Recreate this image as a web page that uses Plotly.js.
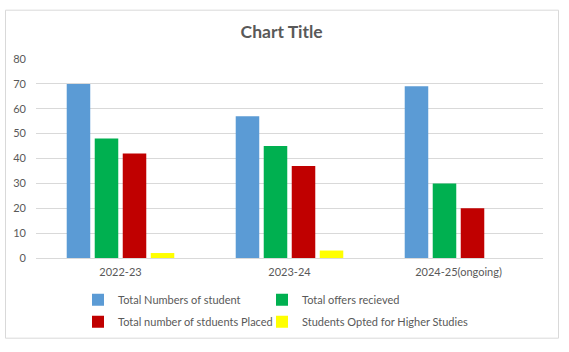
<!DOCTYPE html>
<html>
<head>
<meta charset="utf-8">
<script src="https://cdn.plot.ly/plotly-3.0.1.min.js"></script>
<style>html,body{margin:0;padding:0;background:#fff;}#chart{width:569px;height:352px;}</style>
</head>
<body>
<div id="chart"></div>
<script>
const categories = ["2022-23", "2023-24", "2024-25(ongoing)"];
const seriesNames = ["Total Numbers of student", "Total offers recieved", "Total number of stduents Placed", "Students Opted for Higher Studies"];
const totalStudents = [70, 57, 69];
const offersReceived = [48, 45, 30];
const studentsPlaced = [42, 37, 20];
const higherStudies = [2, 3, 0];
const yTicks = [0, 10, 20, 30, 40, 50, 60, 70, 80];

const colors = ["#5B9BD5", "#00B050", "#C00000", "#FFFF00"];
const values = [totalStudents, offersReceived, studentsPlaced, higherStudies];
const legendIds = ["legend", "legend2", "legend3", "legend4"];
const FONT = "Lato, 'Open Sans', sans-serif";

const traces = values.map((v, i) => ({
  type: "bar",
  name: seriesNames[i],
  x: categories,
  y: v,
  legend: legendIds[i],
  marker: {color: colors[i], line: {width: 0}},
  hoverinfo: "skip"
}));

const pl = 36, pr = 543, pt = 59.3, pb = 258.3;
const pw = pr - pl, ph = pb - pt;
const legFont = {family: FONT, size: 11, color: "#595959"};
function legendAt(xl, yc) {
  return {orientation: "h", x: (xl - pl) / pw, xanchor: "left", y: (pb - yc) / ph, yanchor: "middle",
          font: legFont, traceorder: "normal", bgcolor: "rgba(0,0,0,0)", borderwidth: 0};
}
const layout = {
  width: 569, height: 352,
  margin: {l: pl, r: 569 - pr, t: pt, b: 352 - pb, pad: 0},
  paper_bgcolor: "#fff", plot_bgcolor: "#fff",
  font: {family: FONT, size: 11, color: "#595959"},
  title: {text: "<b>Chart Title</b>", font: {family: FONT, size: 17.5, color: "#595959"}, x: 0.495, xanchor: "center", y: 0.91, yanchor: "middle"},
  barmode: "group",
  bargap: 0.337,
  bargroupgap: 0.16,
  showlegend: true,
  legend: legendAt(78, 300),
  legend2: legendAt(262, 300),
  legend3: legendAt(78, 322),
  legend4: legendAt(262, 322),
  xaxis: {type: "category", showgrid: false, showline: true, linecolor: "#d9d9d9", linewidth: 1,
          ticks: "", ticklabelstandoff: 4, tickfont: {family: FONT, size: 11, color: "#595959"}, fixedrange: true},
  yaxis: {range: [0, 80], tickvals: yTicks, showgrid: true, gridcolor: "#d9d9d9", gridwidth: 1,
          zeroline: false, showline: false, ticks: "", ticklabelstandoff: 9,
          tickfont: {family: FONT, size: 11, color: "#595959"}, fixedrange: true},
  shapes: [{type: "rect", xref: "paper", yref: "paper",
            x0: (5.5 - pl) / pw, x1: (558.5 - pl) / pw, y0: (pb - 338.5) / ph, y1: (pb - 10.5) / ph,
            line: {color: "#d9d9d9", width: 1}, fillcolor: "rgba(0,0,0,0)", layer: "below"}]
};

Plotly.newPlot("chart", traces, layout, {displayModeBar: false, staticPlot: true});
</script>
</body>
</html>
